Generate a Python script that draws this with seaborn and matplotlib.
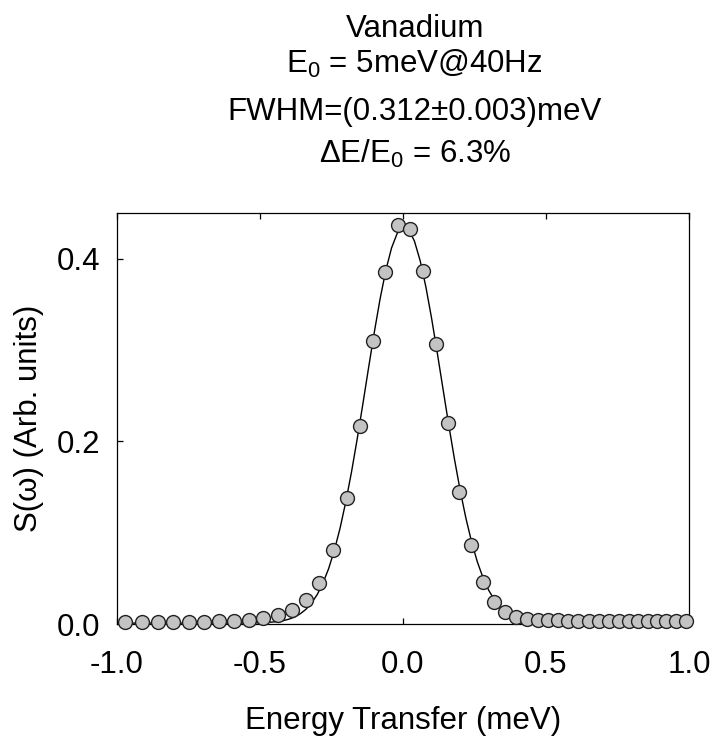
import matplotlib
matplotlib.use("Agg")
import numpy as np
import pandas as pd
import seaborn as sns
import matplotlib.pyplot as plt


# --- data ---
energy = [-0.972, -0.914, -0.858, -0.804, -0.748, -0.696, -0.643, -0.591, -0.538, -0.490,
          -0.437, -0.388, -0.339, -0.294, -0.245, -0.196, -0.150, -0.105, -0.063, -0.017,
          0.026, 0.070, 0.115, 0.157, 0.196, 0.238, 0.280, 0.318, 0.357, 0.395,
          0.434, 0.472, 0.508, 0.543, 0.578, 0.613, 0.650, 0.686, 0.721, 0.756,
          0.789, 0.822, 0.855, 0.888, 0.920, 0.955, 0.988]
intensity = [0.0025, 0.0025, 0.0025, 0.0025, 0.0026, 0.0027, 0.0028, 0.0030, 0.0044, 0.0066,
             0.0102, 0.0155, 0.026, 0.045, 0.081, 0.138, 0.217, 0.310, 0.385, 0.437,
             0.432, 0.387, 0.307, 0.220, 0.144, 0.087, 0.0456, 0.0244, 0.0128, 0.0073,
             0.0055, 0.0047, 0.0042, 0.0040, 0.0038, 0.0037, 0.0036, 0.0036, 0.0035, 0.0035,
             0.0035, 0.0035, 0.0035, 0.0035, 0.0035, 0.0035, 0.0035]

# fitted curve (gaussian fit)
fit_energy = [-1.0, -0.8, -0.6, -0.55, -0.48, -0.44, -0.42, -0.40, -0.38, -0.36, -0.34, -0.32,
              -0.30, -0.28, -0.26, -0.24, -0.22, -0.20, -0.18, -0.16, -0.14, -0.12, -0.10,
              -0.08, -0.06, -0.04, -0.02, 0.00, 0.02, 0.04, 0.06, 0.08, 0.10, 0.12, 0.14,
              0.16, 0.18, 0.20, 0.22, 0.24, 0.26, 0.28, 0.30, 0.32, 0.34, 0.36, 0.38, 0.40,
              0.42, 0.44, 0.48, 0.55, 0.77]
fit_intensity = [0.0010, 0.0010, 0.0010, 0.0011, 0.0016, 0.0026, 0.0036, 0.0052, 0.0075, 0.0110,
                 0.0159, 0.0228, 0.0322, 0.0447, 0.0606, 0.0806, 0.1049, 0.1337, 0.1664, 0.2027,
                 0.2414, 0.2811, 0.3199, 0.3560, 0.3872, 0.4117, 0.4279, 0.4348, 0.4319, 0.4193,
                 0.3979, 0.3692, 0.3348, 0.2968, 0.2573, 0.2180, 0.1806, 0.1463, 0.1159, 0.0898,
                 0.0681, 0.0506, 0.0368, 0.0263, 0.0184, 0.0128, 0.0087, 0.0060, 0.0041, 0.0029,
                 0.0017, 0.0011, 0.0010]

title_lines = ["Vanadium", "E$_0$ = 5meV@40Hz", "FWHM=(0.312\u00b10.003)meV", "\u0394E/E$_0$ = 6.3%"]

df_pts = pd.DataFrame({"E": energy, "S": intensity})
df_fit = pd.DataFrame({"E": fit_energy, "S": fit_intensity})

sns.set_theme(style="ticks")
plt.rcParams['font.family'] = ['Liberation Sans', 'DejaVu Sans']
plt.rcParams['mathtext.fontset'] = 'custom'
plt.rcParams['mathtext.rm'] = 'Liberation Sans'
plt.rcParams['mathtext.it'] = 'Liberation Sans'
plt.rcParams['axes.unicode_minus'] = False

fs = 22.5

fig = plt.figure(figsize=(7.15, 7.37), dpi=100)
ax = fig.add_axes([0.1636, 0.1533, 0.800, 0.5577])

sns.lineplot(data=df_fit, x="E", y="S", ax=ax, color="black", linewidth=1.0, sort=False)
sns.scatterplot(data=df_pts, x="E", y="S", ax=ax, s=100, color="#c3c3c3",
                edgecolor="#222222", linewidth=1.0, zorder=3, clip_on=False)

ax.set_xlim(-1.0, 1.0)
ax.set_ylim(0.0, 0.45)
ax.set_xticks([-1.0, -0.5, 0.0, 0.5, 1.0])
ax.set_yticks([0.0, 0.2, 0.4])

for sp in ax.spines.values():
    sp.set_color("black")
    sp.set_linewidth(0.9)

ax.tick_params(axis='x', direction='in', top=True, bottom=True, labeltop=False,
               length=4.5, width=0.9, labelsize=fs, pad=19, colors='black')
ax.tick_params(axis='y', direction='in', left=True, right=False,
               length=4.5, width=0.9, labelsize=fs, pad=12, colors='black')

ax.set_xlabel("Energy Transfer (meV)", fontsize=fs, color='black')
ax.set_ylabel("S(\u03c9) (Arb. units)", fontsize=fs, color='black')
ax.xaxis.set_label_coords(0.5, -0.2)
ax.yaxis.set_label_coords(-0.128, 0.5)

# title block
baselines = [37, 73, 120, 163]
for txt, yb in zip(title_lines, baselines):
    fig.text(0.58, 1 - yb / 737, txt, ha='center', va='baseline', fontsize=fs, color='black')

plt.savefig('out.png', dpi=100)
plt.close()
